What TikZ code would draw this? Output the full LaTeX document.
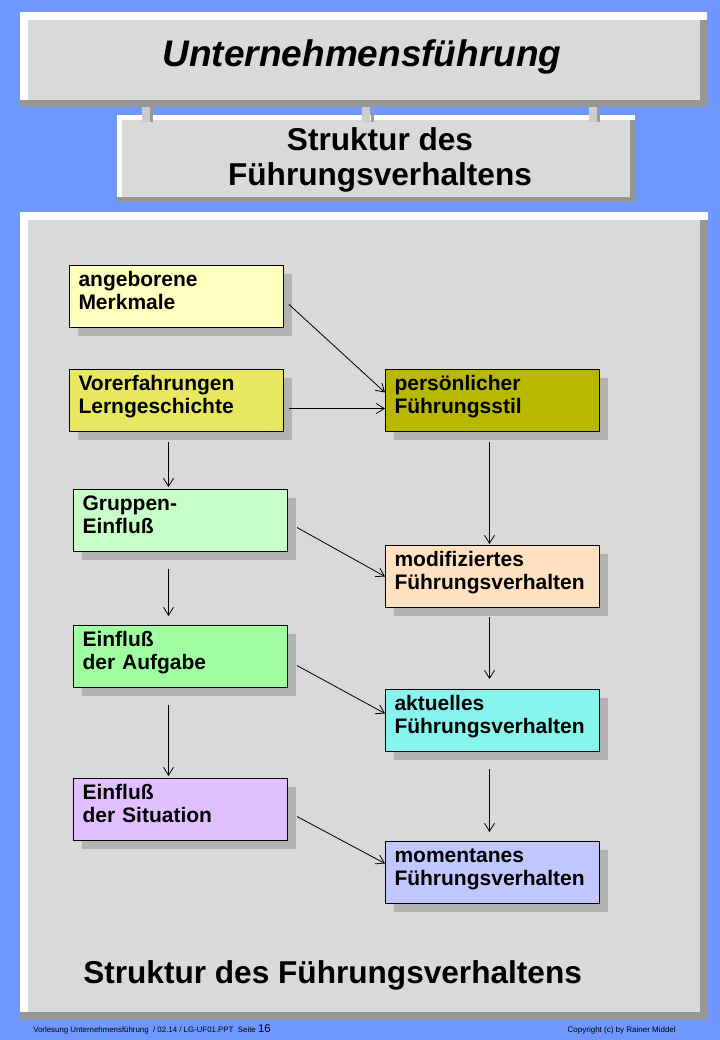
\documentclass[tikz,border=0pt]{standalone}
\usepackage{fontspec}
\setmainfont{Liberation Sans}
\usetikzlibrary{shadows,arrows.meta}
\definecolor{hintergrund}{HTML}{6F97FF}
\definecolor{tafelgrau}{HTML}{D9D9D9}
\definecolor{rahmenschatten}{HTML}{969696}
\definecolor{kastenschatten}{HTML}{B3B3B3}
\definecolor{steghell}{HTML}{CCCCCC}
\definecolor{stegdunkel}{HTML}{999999}
\definecolor{merkgelb}{HTML}{FFFFC0}
\definecolor{vorgelb}{HTML}{E8E860}
\definecolor{stiloliv}{HTML}{B8B800}
\definecolor{gruppengruen}{HTML}{C8FFC8}
\definecolor{aufgabengruen}{HTML}{A0FFA0}
\definecolor{situationlila}{HTML}{E0C0FF}
\definecolor{modifpfirsich}{HTML}{FFE0C0}
\definecolor{aktuellcyan}{HTML}{88F4EE}
\definecolor{momentblau}{HTML}{C0C8FF}

\begin{document}
\begin{tikzpicture}[x=0.75pt,y=-0.75pt,
	grauflaeche/.style={fill=tafelgrau},
	kasten/.style={draw=black, line width=0.75pt, fill=#1, anchor=north west,
		minimum width=160.5pt, text width=147pt, inner xsep=6.75pt, inner ysep=0pt,
		text height=15.75pt, text depth=30.75pt, align=left,
		font={\fontsize{15.75pt}{17.25pt}\selectfont\bfseries},
		drop shadow={shadow xshift=6pt, shadow yshift=-6pt, fill=kastenschatten, opacity=1}},
	pfeil/.style={-{Straight Barb[length=6pt,width=7.5pt]}, line width=0.6pt}]
	\tikzstyle{every node}+=[inner sep=0pt]
	\useasboundingbox (0,0) rectangle (720,1040);
	\fill [hintergrund] (0,0) rectangle (720,1040);
	\node [grauflaeche, minimum width=504pt, minimum height=60pt] (titel) at (364,60) {};
	\node [grauflaeche, minimum width=381pt, minimum height=57.75pt] (untertitel) at (376,158.5) {};
	\node [grauflaeche, minimum width=504pt, minimum height=594pt] (tafel) at (364,616) {};
	\foreach \n/\b/\s in {titel/8/7,untertitel/5/5,tafel/8/8} {
		\fill [rahmenschatten] (\n.north east) rectangle ([shift={(\s,\s)}]\n.south east);
		\fill [rahmenschatten] ([shift={(-\b,0)}]\n.south west) rectangle ([shift={(\s,\s)}]\n.south east);
		\fill [white] ([shift={(-\b,-\b)}]\n.north west) rectangle ([shift={(\s,0)}]\n.north east);
		\fill [white] ([shift={(-\b,0)}]\n.north west) rectangle (\n.south west);
	}
	\foreach \sx/\dx in {146/151.5,366/372,592.5/598} {
		\draw [steghell, line width=6pt] ([yshift=-5.25pt]\sx,0 |- titel.south) -- ([yshift=-1.5pt]\sx,0 |- untertitel.north);
		\draw [stegdunkel, line width=2.25pt] ([yshift=-5.25pt]\dx,0 |- titel.south) -- ([yshift=-1.5pt]\dx,0 |- untertitel.north);
	}
	\node [font={\fontsize{27.75pt}{32pt}\selectfont\bfseries\itshape}, anchor=base] (titeltext) at (362,66) {Unternehmensführung};
	\node [font={\fontsize{23.7pt}{26.25pt}\selectfont\bfseries}, align=center] (untertiteltext) at (380,160) {Struktur des\\Führungsverhaltens};
	\node [kasten=merkgelb] (merk) at (69,265) {angeborene\\Merkmale};
	\node [kasten=vorgelb] (vorerf) at (69,369) {Vorerfahrungen\\Lerngeschichte};
	\node [kasten=gruppengruen] (gruppe) at (73,489) {Gruppen-\\Einfluß};
	\node [kasten=aufgabengruen] (aufgabe) at (73,625) {Einfluß\\der Aufgabe};
	\node [kasten=situationlila] (situation) at (73,778) {Einfluß\\der Situation};
	\node [kasten=stiloliv] (stil) at (385,369) {persönlicher\\Führungsstil};
	\node [kasten=modifpfirsich] (modif) at (385,545) {modifiziertes\\Führungsverhalten};
	\node [kasten=aktuellcyan] (aktuell) at (385,689) {aktuelles\\Führungsverhalten};
	\node [kasten=momentblau] (moment) at (385,841) {momentanes\\Führungsverhalten};
	\draw [pfeil] ([shift={(5,8)}]merk.east) -- ([shift={(0,-8)}]stil.west);
	\draw [pfeil] ([shift={(5,8)}]vorerf.east) -- ([shift={(0,8)}]stil.west);
	\draw [pfeil] ([shift={(-8,10)}]vorerf.south) -- ([shift={(-12,-2)}]gruppe.north);
	\draw [pfeil] ([shift={(-12,17)}]gruppe.south) -- ([shift={(-12,-9)}]aufgabe.north);
	\draw [pfeil] ([shift={(-12,17)}]aufgabe.south) -- ([shift={(-12,-2)}]situation.north);
	\draw [pfeil] ([shift={(-3,10)}]stil.south) -- ([shift={(-3,-1)}]modif.north);
	\draw [pfeil] ([shift={(-3,9)}]modif.south) -- ([shift={(-3,-10)}]aktuell.north);
	\draw [pfeil] ([shift={(-3,17)}]aktuell.south) -- ([shift={(-3,-9)}]moment.north);
	\draw [pfeil] ([shift={(9,7)}]gruppe.east) -- (modif.west);
	\draw [pfeil] ([shift={(9,9)}]aufgabe.east) -- ([shift={(0,-7)}]aktuell.west);
	\draw [pfeil] ([shift={(9,7)}]situation.east) -- ([shift={(0,-9)}]moment.west);
	\node [font={\fontsize{23.7pt}{26.25pt}\selectfont\bfseries}, anchor=base west] (fusstitel) at (83,983) {Struktur des Führungsverhaltens};
	\node [font={\fontsize{5.9pt}{6pt}\selectfont}, anchor=base west] (fussnote) at (33,1032) {Vorlesung Unternehmensführung \ / 02.14 / LG-UF01.PPT \ Seite {\fontsize{8.5pt}{9pt}\selectfont 16}};
	\node [font={\fontsize{6pt}{6pt}\selectfont}, anchor=base east] (copyright) at (676,1032) {Copyright (c) by Rainer Middel};
\end{tikzpicture}
\end{document}
